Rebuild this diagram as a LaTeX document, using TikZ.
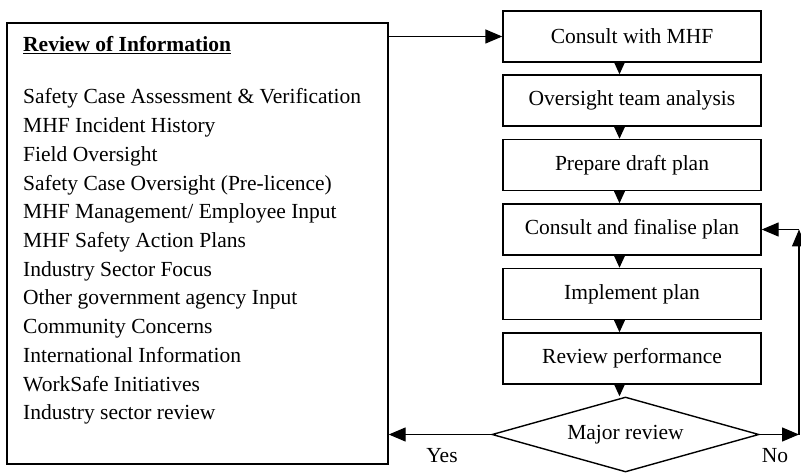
\documentclass[tikz,border=0pt]{standalone}
\usepackage{fontspec}
\setmainfont{Liberation Serif}
\usetikzlibrary{arrows.meta,shapes.geometric}
\begin{document}
\begin{tikzpicture}[x=1pt,y=-1pt,
  box/.style={draw, line width=1.4pt, minimum width=258pt, minimum height=51pt, inner sep=0pt, font=\fontsize{21.5pt}{28.7pt}\selectfont},
  txt/.style={inner sep=0pt, font=\fontsize{21.5pt}{28.7pt}\selectfont},
  arr/.style={line width=1.4pt, -{Triangle[length=17pt,width=14pt]}},
  sarr/.style={line width=1.4pt, -{Triangle[length=12.5pt,width=11pt]}},
]
\useasboundingbox (0,0) rectangle (801,473);
% left information box
\node[draw, line width=1.4pt, minimum width=381pt, minimum height=441pt, inner sep=0pt] (info) at (197.5,243.5) {};
\node[txt, anchor=base west] (title) at (23,52) {\textbf{\underline{Review of Information}}};
\foreach \t [count=\i] in {Safety Case Assessment \& Verification,
  MHF Incident History,
  Field Oversight,
  Safety Case Oversight (Pre-licence),
  MHF Management/ Employee Input,
  MHF Safety Action Plans,
  Industry Sector Focus,
  Other government agency Input,
  Community Concerns,
  International Information,
  WorkSafe Initiatives,
  Industry sector review}
  \node[txt, anchor=base west] (l\i) at (23,{104+(\i-1)*28.7}) {\t};
% process boxes
\node[box] (b1) at (632,36.5) {Consult with MHF};
\node[box] (b2) at (632,100.5) {Oversight team analysis};
\node[box] (b3) at (632,165) {Prepare draft plan};
\node[box] (b4) at (632,229.5) {Consult and finalise plan};
\node[box] (b5) at (632,294) {Implement plan};
\node[box] (b6) at (632,358.5) {Review performance};
\node[draw, diamond, line width=1.4pt, aspect=3.56, minimum width=267pt, minimum height=75pt, inner sep=0pt, font=\fontsize{21.5pt}{28.7pt}\selectfont] (dm) at (625.5,434.5) {Major review};
% connectors
\foreach \a/\b in {b1/b2,b2/b3,b3/b4,b4/b5,b5/b6}
  \draw[sarr] ([xshift=-12.5pt]\a.south) -- ([xshift=-12.5pt]\b.north);
\draw[sarr] ([xshift=-12.5pt]b6.south) -- ([xshift=-12.5pt]b6.south |- dm.north);
\draw[arr] (info.east |- b1.west) -- (b1.west);
\draw[arr] (dm.west) -- (dm.west -| info.east);
\coordinate (cr) at (799,434.5);
\coordinate (ct) at (799,229.5);
\draw[arr] (dm.east) -- (cr);
\draw[arr] (cr) -- (ct);
\draw[arr] (ct) -- (b4.east);
\node[txt, anchor=base] (yes) at (442,462) {Yes};
\node[txt, anchor=base] (no) at (775,462) {No};
\end{tikzpicture}
\end{document}
